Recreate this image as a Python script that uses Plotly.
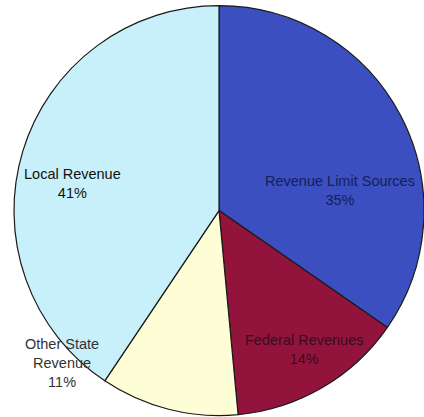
import plotly.graph_objects as go

labels = ["Revenue Limit Sources", "Federal Revenues", "Other State Revenue", "Local Revenue"]
values = [35, 14, 11, 41]
display_labels = ["Revenue Limit Sources", "Federal Revenues", "Other State<br>Revenue", "Local Revenue"]
colors = ["#3b4fc0", "#92143d", "#fefed6", "#c8f0fa"]
text_colors = ["#14205a", "#3a0c1c", "#333333", "#111111"]
label_pos = [(0.802, 0.542), (0.717, 0.161), (0.146, 0.129), (0.170, 0.559)]

fig = go.Figure(go.Pie(
    labels=labels,
    values=values,
    sort=False,
    direction="clockwise",
    rotation=0,
    marker=dict(colors=colors, line=dict(color="#1a1a1a", width=1.2)),
    textinfo="none",
    hoverinfo="label+percent",
    showlegend=False,
    domain=dict(x=[14/424, 1], y=[0, 0.99]),
))

for lab, v, col, (px, py) in zip(display_labels, values, text_colors, label_pos):
    fig.add_annotation(
        x=px, y=py, xref="paper", yref="paper",
        text=f"{lab}<br>{v}%", showarrow=False,
        font=dict(family="Liberation Sans, Arial, sans-serif", size=14.5, color=col),
        align="center", xanchor="center", yanchor="middle",
    )

fig.update_layout(
    width=424, height=417,
    margin=dict(l=0, r=0, t=0, b=0),
    paper_bgcolor="white", plot_bgcolor="white",
)

fig.write_html("out.html")
